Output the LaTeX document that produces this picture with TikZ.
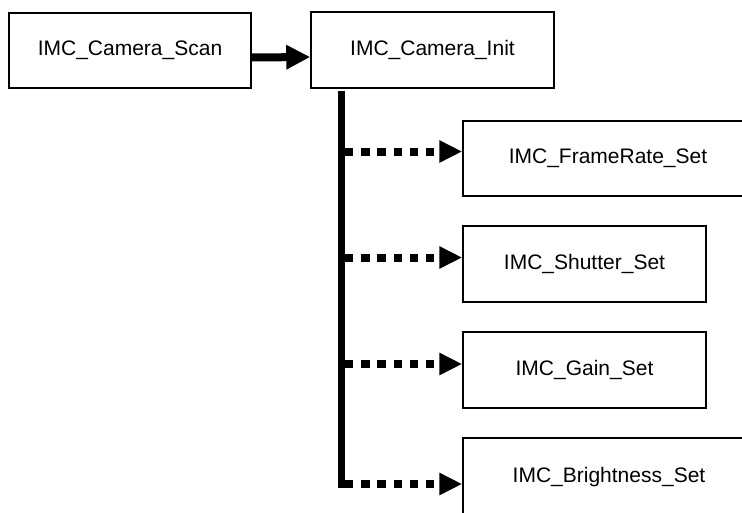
\documentclass[tikz,border=0pt]{standalone}
\usepackage{fontspec}
\setmainfont{Liberation Sans}
\usetikzlibrary{arrows.meta}
\begin{document}
\begin{tikzpicture}[x=1pt,y=-1pt,
  box/.style={draw, line width=1.5pt, rectangle, inner sep=0pt,
    font=\fontsize{21}{25}\selectfont},
  mainarrow/.style={line width=8pt, -{Triangle[length=24pt,width=23pt]}},
  trunkline/.style={line width=7.5pt, line cap=butt},
  dotarrow/.style={line width=8pt, dash pattern=on 8.3pt off 7.9pt,
    -{Triangle[length=23pt,width=21pt]}}]
\clip (0,0) rectangle (742,512);
\useasboundingbox (0,0) rectangle (742,512);

\node[box, minimum width=242pt, minimum height=75pt] (scan) at (130,50.5) {IMC\_Camera\_Scan};
\node[box, minimum width=243pt, minimum height=76pt] (init) at (432.5,50) {IMC\_Camera\_Init};
\node[box, minimum width=290pt, minimum height=75pt, text depth=4pt] (frame) at (608,158.5) {IMC\_FrameRate\_Set};
\node[box, minimum width=243pt, minimum height=76pt] (shutter) at (584.5,264) {IMC\_Shutter\_Set};
\node[box, minimum width=243pt, minimum height=76pt] (gain) at (584.5,370) {IMC\_Gain\_Set};
\node[box, minimum width=292pt, minimum height=76pt, text depth=2pt] (bright) at (609,476) {IMC\_Brightness\_Set};

\draw[mainarrow] ([yshift=-7pt]scan.east) -- ([yshift=-7pt]init.west);

\coordinate (trunktop) at (341.5,90.5);
\coordinate (trunkbot) at (341.5,488);
\draw[trunkline] (trunktop) -- (trunkbot);

\coordinate (t1) at (345,151.5);
\coordinate (t2) at (345,257.5);
\coordinate (t3) at (345,364);
\coordinate (t4) at (345,484);
\draw[dotarrow] (t1) -- (frame.west |- t1);
\draw[dotarrow] (t2) -- (shutter.west |- t2);
\draw[dotarrow] (t3) -- (gain.west |- t3);
\draw[dotarrow] (t4) -- (bright.west |- t4);
\end{tikzpicture}
\end{document}
